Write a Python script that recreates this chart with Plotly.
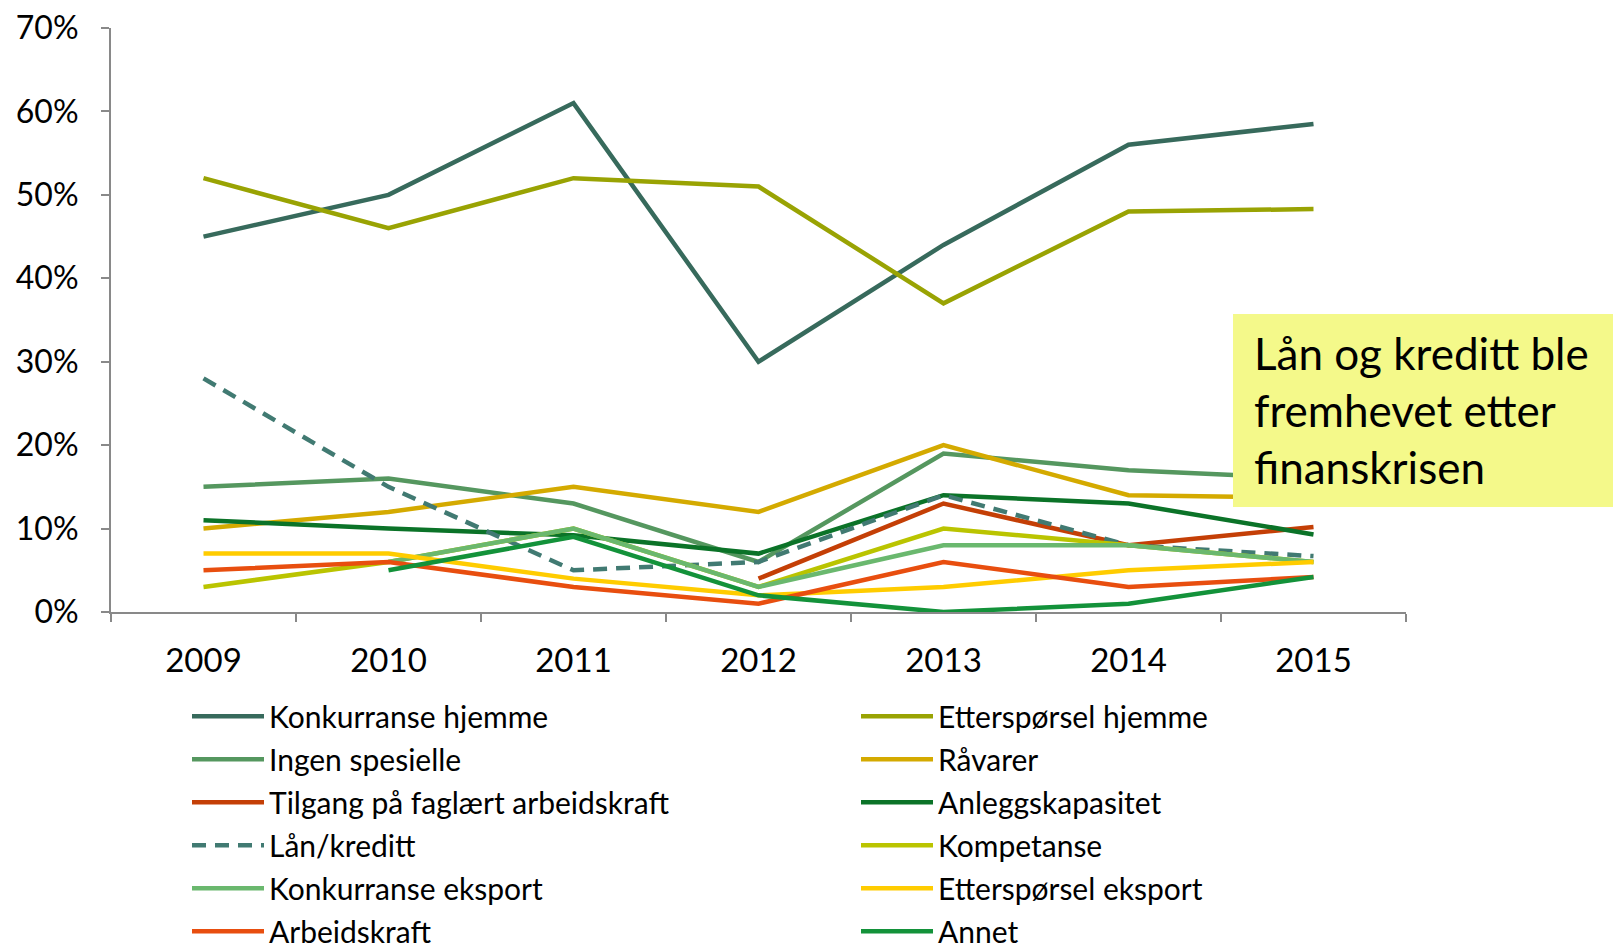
import plotly.graph_objects as go

years = ["2009", "2010", "2011", "2012", "2013", "2014", "2015"]

konkurranse_hjemme = [45, 50, 61, 30, 44, 56, 58.5]
etterspoersel_hjemme = [52, 46, 52, 51, 37, 48, 48.3]
ingen_spesielle = [15, 16, 13, 6, 19, 17, 16]
raavarer = [10, 12, 15, 12, 20, 14, 13.7]
tilgang_faglaert = [None, None, None, 4, 13, 8, 10.2]
anleggskapasitet = [11, 10, 9.2, 7, 14, 13, 9.3]
laan_kreditt = [28, 15, 5, 6, 14, 8, 6.7]
kompetanse = [3, 6, 10, 3, 10, 8, 6]
konkurranse_eksport = [None, 6, 10, 3, 8, 8, 6]
etterspoersel_eksport = [7, 7, 4, 2, 3, 5, 6]
arbeidskraft = [5, 6, 3, 1, 6, 3, 4.2]
annet = [None, 5, 9, 2, 0, 1, 4.2]

series = [
    ("Konkurranse hjemme", konkurranse_hjemme, "#376A5C", "solid"),
    ("Etterspørsel hjemme", etterspoersel_hjemme, "#99A303", "solid"),
    ("Ingen spesielle", ingen_spesielle, "#55975F", "solid"),
    ("Råvarer", raavarer, "#D4AA00", "solid"),
    ("Tilgang på faglært arbeidskraft", tilgang_faglaert, "#C43F06", "solid"),
    ("Anleggskapasitet", anleggskapasitet, "#0B7328", "solid"),
    ("Lån/kreditt", laan_kreditt, "#417A72", "14px,9px"),
    ("Kompetanse", kompetanse, "#BAC400", "solid"),
    ("Konkurranse eksport", konkurranse_eksport, "#6AB86E", "solid"),
    ("Etterspørsel eksport", etterspoersel_eksport, "#FFCC00", "solid"),
    ("Arbeidskraft", arbeidskraft, "#E84E0F", "solid"),
    ("Annet", annet, "#13923A", "solid"),
]

fig = go.Figure()
for i, (name, vals, color, dash) in enumerate(series):
    fig.add_trace(go.Scatter(
        x=years, y=[v / 100 if v is not None else None for v in vals],
        name=name, mode="lines",
        line=dict(color=color, width=4.5, dash=dash),
        connectgaps=False,
        legend="legend" if i % 2 == 0 else "legend2",
        legendgroup=f"g{i}",
    ))

font_family = "Lato, 'Open Sans', sans-serif"

W, H = 1613, 952
L, T, PW, PH = 111, 28, 1295, 584


def px_x(fx):
    return (fx - L) / PW


def px_y(fy):
    return (T + PH - fy) / PH


legend_common = dict(
    orientation="v", xanchor="left", yanchor="top", y=-0.134,
    font=dict(size=30, family=font_family), traceorder="grouped",
    bgcolor="rgba(0,0,0,0)", itemwidth=72, tracegroupgap=1,
)

fig.update_layout(
    width=W, height=H,
    margin=dict(l=L, r=W - L - PW, t=T, b=H - T - PH, autoexpand=False),
    plot_bgcolor="white", paper_bgcolor="white",
    font=dict(family=font_family, color="#000000"),
    xaxis=dict(
        type="category", tickson="boundaries", ticks="outside",
        ticklen=8, tickcolor="#898989", tickwidth=2,
        showline=True, linecolor="#898989", linewidth=2,
        showgrid=False, tickfont=dict(size=33), range=[-0.5, 6.5],
        ticklabelstandoff=18,
    ),
    yaxis=dict(
        range=[0, 0.7], dtick=0.1, tickformat=".0%",
        ticks="outside", ticklen=8, tickcolor="#898989", tickwidth=2,
        showline=True, linecolor="#898989", linewidth=2,
        showgrid=False, zeroline=False, tickfont=dict(size=32),
        ticklabelstandoff=16, ticklabeloverflow="allow",
    ),
    legend=dict(x=px_x(187), **legend_common),
    legend2=dict(x=px_x(856), **legend_common),
    shapes=[dict(
        type="rect", xref="paper", yref="paper",
        x0=px_x(1233), x1=px_x(1640), y0=px_y(507), y1=px_y(314),
        fillcolor="#F4F98A", line=dict(width=0), layer="above",
    )],
    annotations=[dict(
        xref="paper", yref="paper", x=px_x(1252), y=px_y(410),
        xanchor="left", yanchor="middle",
        text="Lån og kreditt ble<br>fremhevet etter<br>finanskrisen",
        align="left", showarrow=False,
        font=dict(size=44, family=font_family, color="#000000"),
    )],
)

fig.write_html(
    "out.html",
    config={"displayModeBar": False},
    post_script="document.body.style.margin='0';document.body.style.overflow='hidden';",
)
